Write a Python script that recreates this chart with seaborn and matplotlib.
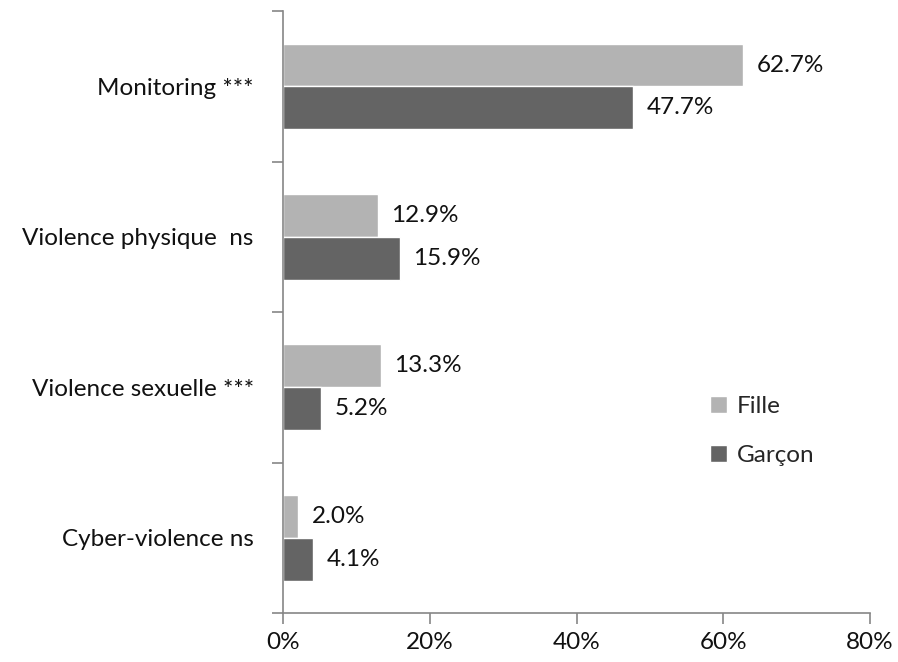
import matplotlib
matplotlib.use('Agg')
import matplotlib.pyplot as plt
import matplotlib.ticker as mtick
import pandas as pd
import seaborn as sns

categories = ['Monitoring ***', 'Violence physique  ns', 'Violence sexuelle ***', 'Cyber-violence ns']
fille = [62.7, 12.9, 13.3, 2.0]
garcon = [47.7, 15.9, 5.2, 4.1]
series_names = ['Fille', 'Garçon']
x_ticks = [0, 20, 40, 60, 80]

df = pd.DataFrame({
    'cat': categories * 2,
    'val': fille + garcon,
    'sexe': [series_names[0]] * 4 + [series_names[1]] * 4,
})

sns.set_style('white')
plt.rcParams['font.family'] = ['Lato', 'DejaVu Sans']
fs = 17.5

fig = plt.figure(figsize=(8.98, 6.62), dpi=100)
ax = fig.add_axes([0.315, 0.074, 0.654, 0.909])

palette = {'Fille': '#b3b3b3', 'Garçon': '#646464'}
sns.barplot(data=df, x='val', y='cat', hue='sexe', palette=palette, orient='h',
            width=0.57, saturation=1, ax=ax, legend=True)

# value labels
for cont in ax.containers:
    ax.bar_label(cont, labels=['%.1f%%' % v for v in cont.datavalues], padding=10,
                 fontsize=fs, color='#111111')

ax.set_xlim(0, 80)
ax.set_ylim(3.5, -0.5)
ax.set_xticks(x_ticks)
ax.xaxis.set_major_formatter(mtick.FuncFormatter(lambda v, p: '%d%%' % v))
ax.set_xlabel('')
ax.set_ylabel('')

# category boundaries as y ticks
ax.set_yticks(range(len(categories)))
ax.set_yticklabels(categories)
ax.set_yticks([i - 0.5 for i in range(len(categories) + 1)], minor=True)
ax.tick_params(axis='y', which='major', left=False, length=0, pad=21, labelsize=fs, labelcolor='#111111')
ax.tick_params(axis='y', which='minor', left=True, length=8, width=1.2, color='#868686', direction='out')
ax.tick_params(axis='x', which='major', bottom=True, length=8, width=1.2, color='#868686', direction='out',
               pad=6, labelsize=fs, labelcolor='#111111')

for s in ['top', 'right']:
    ax.spines[s].set_visible(False)
for s in ['left', 'bottom']:
    ax.spines[s].set_color('#868686')
    ax.spines[s].set_linewidth(1.2)

ax.legend(title=None, frameon=False, loc='center left', bbox_to_anchor=(0.69, 0.303),
          fontsize=fs, handlelength=0.7, handleheight=0.7, labelspacing=1.15, handletextpad=0.4)

fig.savefig('out.png', dpi=100)
